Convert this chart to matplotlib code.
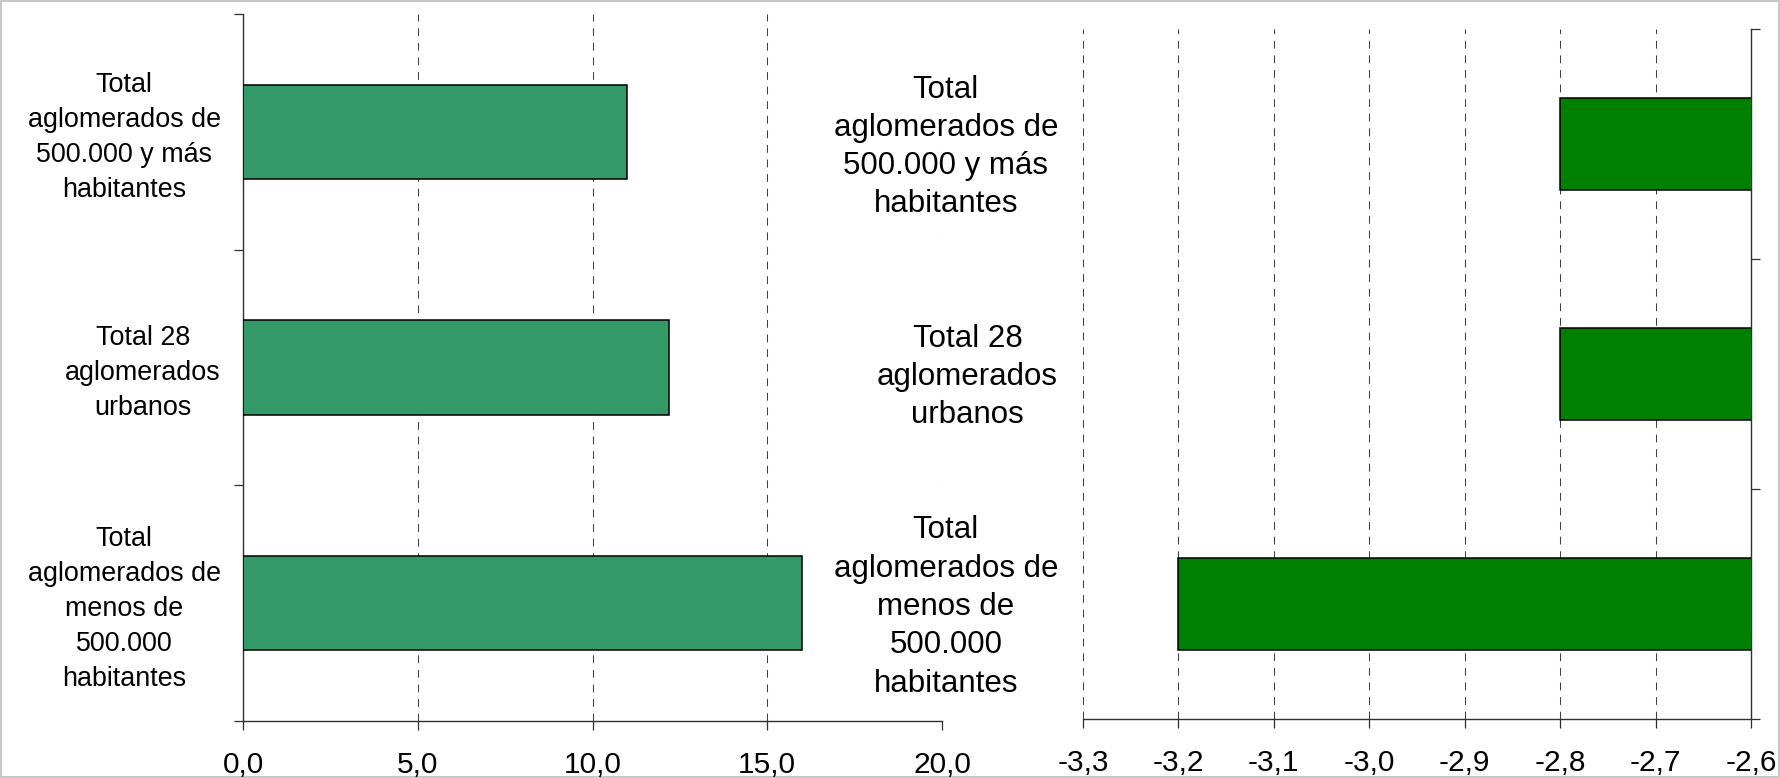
import matplotlib
matplotlib.use("Agg")
import matplotlib.pyplot as plt
from matplotlib.ticker import FixedLocator, NullFormatter

plt.rcParams["font.family"] = ["Liberation Sans", "DejaVu Sans"]

# datos
categorias = [
    "Total\naglomerados de\n500.000 y más\nhabitantes",
    "Total 28\naglomerados\nurbanos",
    "Total\naglomerados de\nmenos de\n500.000\nhabitantes",
]
valores_izq = [11.0, 12.2, 16.0]
valores_der = [-2.8, -2.8, -3.2]
ticks_izq = [0, 5, 10, 15, 20]
ticks_der = [-3.3, -3.2, -3.1, -3.0, -2.9, -2.8, -2.7, -2.6]

W, H = 1780, 778
fig = plt.figure(figsize=(W / 100, H / 100), dpi=100)
fig.patch.set_edgecolor("#c8c8c8")
fig.patch.set_linewidth(1.5)

GRID = dict(color="#404040", linewidth=0.75, linestyle=(0, (7.5, 6.5)))
SPINE = "#303030"


def px(x0, y0, x1, y1):
    return [x0 / W, 1 - y1 / H, (x1 - x0) / W, (y1 - y0) / H]


def base_axes(ax, valores, color, xticks, xlim, lado_spine, label_size, linesp, pad, dy=0.0):
    y = list(range(len(valores)))
    ax.set_axisbelow(True)
    ax.grid(axis="x", **GRID)
    ax.barh(y, valores, height=0.4, color=color, edgecolor="black", linewidth=1.1, zorder=3)
    ax.set_xlim(*xlim)
    ax.set_ylim(len(valores) - 0.5, -0.5)
    ax.set_xticks(xticks)
    ax.set_xticklabels([f"{t:.1f}".replace(".", ",") for t in xticks], fontsize=21.5)
    ax.tick_params(axis="x", direction="out", length=6.5, width=0.9, color=SPINE, pad=15)
    for s in ["top", "left", "right"]:
        ax.spines[s].set_visible(False)
    ax.spines[lado_spine].set_visible(True)
    for s in ["bottom", lado_spine]:
        ax.spines[s].set_color(SPINE)
        ax.spines[s].set_linewidth(1.0)
    # etiquetas de categoria (ticks mayores) y separadores (ticks menores)
    ax.set_yticks([i - dy for i in y])
    ax.set_yticklabels(categorias, fontsize=label_size, ha="right", multialignment="center",
                       linespacing=linesp)
    ax.yaxis.set_minor_locator(FixedLocator([i - 0.5 for i in range(len(valores) + 1)]))
    ax.yaxis.set_minor_formatter(NullFormatter())
    ax.tick_params(axis="y", which="major", left=True, right=False, length=0, pad=pad)
    ax.tick_params(axis="y", which="minor", direction="out", length=6.5, width=0.9, color=SPINE,
                   left=(lado_spine == "left"), right=(lado_spine == "right"))


ax1 = fig.add_axes(px(243, 14, 942, 721))
base_axes(ax1, valores_izq, "#339966", ticks_izq, (0, 20), "left", 19.4, 1.45, 16, dy=0.008)

ax2 = fig.add_axes(px(1083, 29, 1751, 719))
base_axes(ax2, valores_der, "#008000", ticks_der, (-3.3, -2.6), "right", 22.5, 1.36, 18, dy=0.02)

fig.savefig("out.png", dpi=100)
